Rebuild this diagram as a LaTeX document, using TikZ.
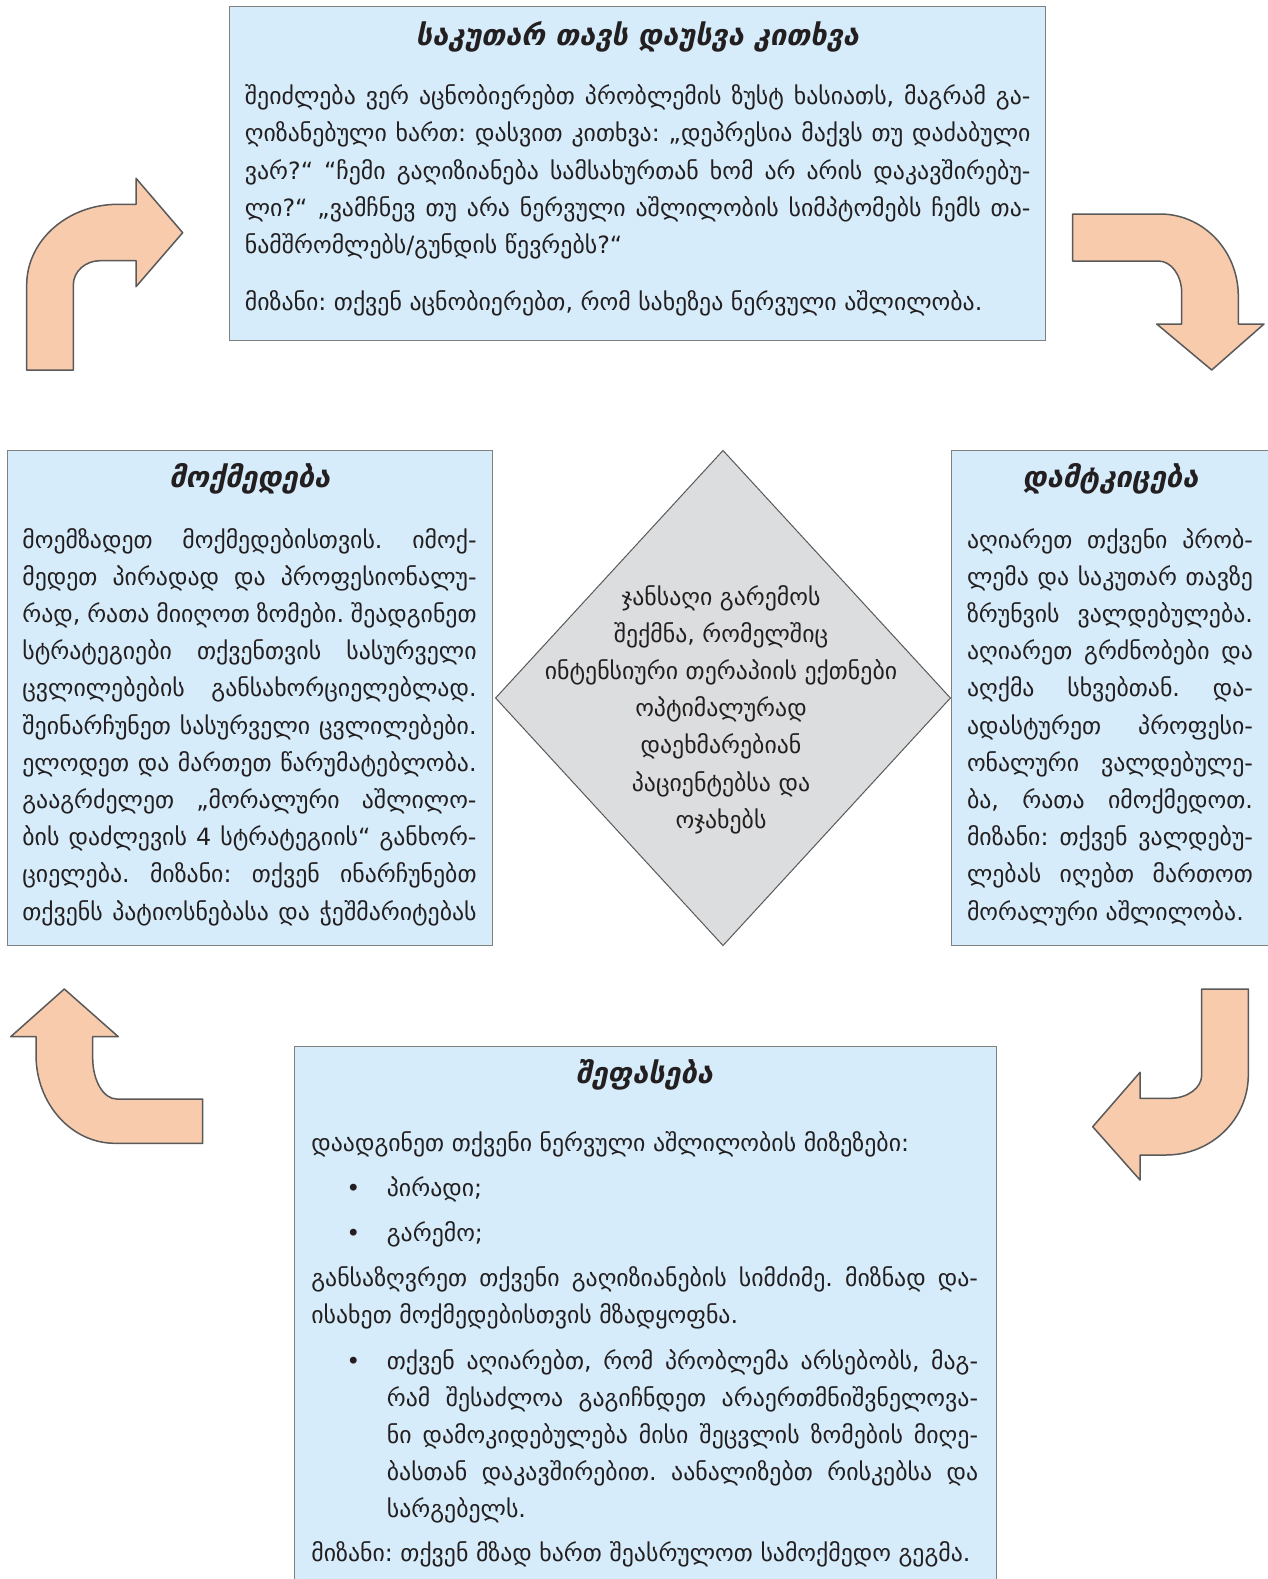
\documentclass[tikz,border=0pt]{standalone}
\usepackage{fontspec}
\setmainfont{DejaVu Sans}
\usetikzlibrary{shapes.geometric}

\definecolor{panelfill}{RGB}{214,236,250}
\definecolor{panelline}{RGB}{128,128,128}
\definecolor{arrowfill}{RGB}{248,203,173}
\definecolor{arrowline}{RGB}{89,89,89}
\definecolor{hubfill}{RGB}{220,221,222}
\definecolor{ink}{RGB}{35,31,32}

\frenchspacing
% one fully justified line of a text block
\newcommand\jl[1]{\makebox[\linewidth][s]{#1}\\}
\newcommand\bodyfont{\fontsize{23.8}{37.2}\selectfont}
\newcommand\titlefont{\fontsize{29}{34}\selectfont\bfseries\itshape}

\tikzset{
  panel/.style={draw=panelline, fill=panelfill, line width=1pt, inner sep=0pt},
  bendarrow/.style={draw=arrowline, fill=arrowfill, line width=1.5pt, line join=round},
  hub/.style={diamond, draw=arrowline, fill=hubfill, line width=1pt, inner sep=0pt},
  heading/.style={anchor=base, inner sep=0pt, text=ink, font=\titlefont},
  block/.style={anchor=base west, inner sep=0pt, text=ink, font=\bodyfont},
  midblock/.style={anchor=base, inner sep=0pt, text=ink, font=\bodyfont},
}

\begin{document}
\begin{tikzpicture}[x=1pt,y=-1pt]
\useasboundingbox (0,0) rectangle (1268,1579);

% ---------- panels ----------
\node[panel, minimum width=815.8, minimum height=333.4] (ask) at (637.5,173.7) {};
\node[panel, minimum width=485.5, minimum height=495.7] (act) at (249.75,697.85) {};
\node[panel, minimum width=326.3, minimum height=495.7] (approve) at (1114.85,697.85) {};
\node[panel, minimum width=702, minimum height=554] (assess) at (645,1323) {};
\node[hub, minimum width=455.2, minimum height=495.5] (hub) at (723,698) {};

% ---------- bent block arrows ----------
% up, then to the right
\draw[bendarrow] (26.7,370) -- (26.7,285)
  .. controls (26.7,240.5) and (67.6,204.3) .. (118,204.3)
  -- (136,204.3) -- (136,178.3) -- (182.7,232.7) -- (136,286.7) -- (136,260.7)
  -- (100,260.7) .. controls (85.3,260.7) and (73.3,271.6) .. (73.3,285)
  -- (73.3,370) -- cycle;
% right, then down
\draw[bendarrow] (1072.7,214) -- (1160,214)
  .. controls (1203.2,214) and (1238.3,250.7) .. (1238.3,296)
  -- (1238.3,324) -- (1264,324) -- (1211.7,370) -- (1156.7,324) -- (1181.7,324)
  -- (1181.7,293) .. controls (1181.7,275.3) and (1171.2,261) .. (1158.3,261)
  -- (1072.7,261) -- cycle;
% down, then to the left
\draw[bendarrow] (1201.7,989) -- (1248.3,989) -- (1248.3,1075)
  .. controls (1248.3,1119.2) and (1211.4,1155) .. (1166,1155)
  -- (1140,1155) -- (1140,1180) -- (1092.7,1126.7) -- (1140,1072.3) -- (1140,1098.3)
  -- (1170,1098.3) .. controls (1187.5,1098.3) and (1201.7,1087.9) .. (1201.7,1075)
  -- cycle;
% left, then up
\draw[bendarrow] (202.7,1143.3) -- (115,1143.3)
  .. controls (71.4,1143.3) and (36,1103.7) .. (36,1055)
  -- (36,1036.7) -- (10.7,1036.7) -- (64.3,989) -- (118.3,1036.7) -- (92.7,1036.7)
  -- (92.7,1058) .. controls (92.7,1080.6) and (103.5,1099) .. (116.7,1099)
  -- (202.7,1099) -- cycle;

% ---------- top panel ----------
\node[heading] (asktitle) at (637.5,45.5) {საკუთარ თავს დაუსვა კითხვა};
\node[block] (askbody) at (244.7,104.6) {\parbox[t]{785.6pt}{%
\jl{შეიძლება ვერ აცნობიერებთ პრობლემის ზუსტ ხასიათს, მაგრამ გა-}
\jl{ღიზანებული ხართ: დასვით კითხვა: „დეპრესია მაქვს თუ დაძაბული}
\jl{ვარ?“ “ჩემი გაღიზიანება სამსახურთან ხომ არ არის დაკავშირებუ-}
\jl{ლი?“ „ვამჩნევ თუ არა ნერვული აშლილობის სიმპტომებს ჩემს თა-}
ნამშრომლებს/გუნდის წევრებს?“}};
\node[block] (askgoal) at (244.7,310.5) {მიზანი: თქვენ აცნობიერებთ, რომ სახეზეა ნერვული აშლილობა.};

% ---------- left panel ----------
\node[heading] (acttitle) at (249.8,487.5) {მოქმედება};
\node[block] (actbody) at (22.2,548) {\parbox[t]{454.2pt}{%
\jl{მოემზადეთ მოქმედებისთვის. იმოქ-}
\jl{მედეთ პირადად და პროფესიონალუ-}
\jl{რად, რათა მიიღოთ ზომები. შეადგინეთ}
\jl{სტრატეგიები თქვენთვის სასურველი}
\jl{ცვლილებების განსახორციელებლად.}
\jl{შეინარჩუნეთ სასურველი ცვლილებები.}
\jl{ელოდეთ და მართეთ წარუმატებლობა.}
\jl{გააგრძელეთ „მორალური აშლილო-}
\jl{ბის დაძლევის 4 სტრატეგიის“ განხორ-}
\jl{ციელება. მიზანი: თქვენ ინარჩუნებთ}
\makebox[\linewidth][s]{თქვენს პატიოსნებასა და ჭეშმარიტებას}}};

% ---------- right panel ----------
\node[heading] (approvetitle) at (1110.5,487.5) {დამტკიცება};
\node[block] (approvebody) at (966.8,548) {\parbox[t]{286pt}{%
\jl{აღიარეთ თქვენი პრობ-}
\jl{ლემა და საკუთარ თავზე}
\jl{ზრუნვის ვალდებულება.}
\jl{აღიარეთ გრძნობები და}
\jl{აღქმა სხვებთან. და-}
\jl{ადასტურეთ პროფესი-}
\jl{ონალური ვალდებულე-}
\jl{ბა, რათა იმოქმედოთ.}
\jl{მიზანი: თქვენ ვალდებუ-}
\jl{ლებას იღებთ მართოთ}
მორალური აშლილობა.}};

% ---------- centre ----------
\node[midblock] (hubtext) at (721,605) {\parbox[t]{440pt}{\centering
ჯანსაღი გარემოს\\
შექმნა, რომელშიც\\
ინტენსიური თერაპიის ექთნები\\
ოპტიმალურად\\
დაეხმარებიან\\
პაციენტებსა და\\
ოჯახებს}};

% ---------- bottom panel ----------
\node[heading] (assesstitle) at (644.5,1083) {შეფასება};
\node[block] (causes) at (311.2,1151.5) {დაადგინეთ თქვენი ნერვული აშლილობის მიზეზები:};
\node[midblock] (dot1) at (353.5,1196.5) {•};
\node[block] (item1) at (386.7,1196.5) {პირადი;};
\node[midblock] (dot2) at (353.5,1241) {•};
\node[block] (item2) at (386.7,1241) {გარემო;};
\node[block] (severity) at (311.2,1286) {\parbox[t]{666.7pt}{%
\jl{განსაზღვრეთ თქვენი გაღიზიანების სიმძიმე. მიზნად და-}
ისახეთ მოქმედებისთვის მზადყოფნა.}};
\node[midblock] (dot3) at (353.5,1369) {•};
\node[block] (item3) at (386.7,1369) {\parbox[t]{591.2pt}{%
\jl{თქვენ აღიარებთ, რომ პრობლემა არსებობს, მაგ-}
\jl{რამ შესაძლოა გაგიჩნდეთ არაერთმნიშვნელოვა-}
\jl{ნი დამოკიდებულება მისი შეცვლის ზომების მიღე-}
\jl{ბასთან დაკავშირებით. აანალიზებთ რისკებსა და}
სარგებელს.}};
\node[block] (assessgoal) at (311.2,1561.5) {მიზანი: თქვენ მზად ხართ შეასრულოთ სამოქმედო გეგმა.};
\end{tikzpicture}
\end{document}
